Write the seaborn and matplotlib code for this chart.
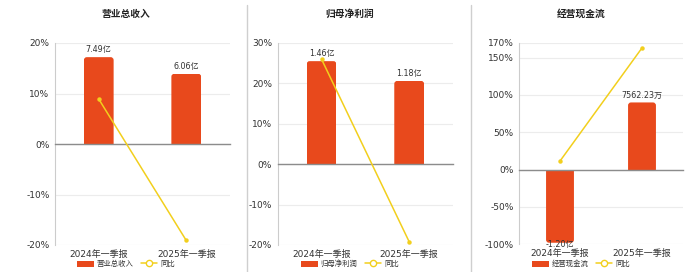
import numpy as np
import matplotlib
matplotlib.use("Agg")
import matplotlib.pyplot as plt
import matplotlib.patches as mpatches
from matplotlib.lines import Line2D
from matplotlib.patches import FancyBboxPatch, Rectangle
import seaborn as sns

sns.set_style("white")
plt.rcParams['font.family'] = ['DejaVu Sans', 'Noto Sans CJK SC']

# ---------------- data ----------------
categories = ["2024年一季报", "2025年一季报"]

titles = ["营业总收入", "归母净利润", "经营现金流"]

revenue_yi = [7.49, 6.06]
revenue_labels = ["7.49亿", "6.06亿"]
revenue_yoy = [8.9, -19.1]

profit_yi = [1.46, 1.18]
profit_labels = ["1.46亿", "1.18亿"]
profit_yoy = [26.0, -19.2]

cash_yi = [-1.20, 0.756223]
cash_labels = ["-1.20亿", "7562.23万"]
cash_yoy = [11.5, 163.0]

y_limits = [(-20, 20), (-20, 30), (-100, 170)]
y_ticks = [[-20, -10, 0, 10, 20],
           [-20, -10, 0, 10, 20, 30],
           [-100, -50, 0, 50, 100, 150, 170]]
# bar-axis scale (percent-axis units per 亿) for negative / positive values
bar_scales = [(2.296, 2.296), (17.47, 17.47), (81.6, 119.0)]

BAR = "#E8491C"
LINE = "#F2CF1D"
TXT = "#333333"

panels = [
    (revenue_yi, revenue_labels, revenue_yoy),
    (profit_yi, profit_labels, profit_yoy),
    (cash_yi, cash_labels, cash_yoy),
]

# layout (pixels)
W, H = 700, 272
axes_px = [(55, 230, 43, 245), (277.7, 453, 43, 245), (519, 683, 42.7, 244.3)]
centers_px = [126, 350, 581]

fig = plt.figure(figsize=(7, 2.72), dpi=100)
fig.patch.set_facecolor("white")

for i, ((vals, labs, yoy), (l, r, t, b)) in enumerate(zip(panels, axes_px)):
    ax = fig.add_axes([l / W, 1 - b / H, (r - l) / W, (b - t) / H])
    kneg, kpos = bar_scales[i]
    heights = [v * (kneg if v < 0 else kpos) for v in vals]

    sns.barplot(x=categories, y=heights, color=BAR, saturation=1, width=0.34,
                ax=ax, edgecolor="none", linewidth=0)

    ymin, ymax = y_limits[i]
    ax.set_ylim(ymin, ymax)
    ax.set_xlim(-0.5, 1.5)

    # rounded bar ends
    px_x = (r - l) / 2.0
    px_y = (b - t) / (ymax - ymin)
    rad_px = 3.0
    rx = rad_px / px_x
    ry = rad_px / px_y
    for p in list(ax.patches):
        x, y0 = p.get_x(), p.get_y()
        w, h = p.get_width(), p.get_height()
        lo, hi = min(y0, y0 + h), max(y0, y0 + h)
        if y0 + h >= 0:
            fb = FancyBboxPatch((x, lo - ry), w, hi - lo + ry,
                                boxstyle=f"round,pad=0,rounding_size={rx}",
                                mutation_aspect=ry / rx, facecolor=BAR,
                                edgecolor="none", zorder=2)
        else:
            fb = FancyBboxPatch((x, lo), w, hi - lo + ry,
                                boxstyle=f"round,pad=0,rounding_size={rx}",
                                mutation_aspect=ry / rx, facecolor=BAR,
                                edgecolor="none", zorder=2)
        clip = Rectangle((x, lo), w, hi - lo, transform=ax.transData)
        p.remove()
        ax.add_patch(fb)
        fb.set_clip_path(clip)

    # value labels
    for j, (hgt, txt) in enumerate(zip(heights, labs)):
        if hgt >= 0:
            ax.annotate(txt, (j, hgt), xytext=(0, 2), textcoords="offset points",
                        ha="center", va="bottom", fontsize=5.8, color=TXT, zorder=6)
        else:
            ax.annotate(txt, (j, hgt), xytext=(0, -1.5), textcoords="offset points",
                        ha="center", va="center", fontsize=5.8, color=TXT, zorder=6)

    # yoy line
    sns.lineplot(x=[0, 1], y=yoy, ax=ax, color=LINE, lw=1.1, marker="o",
                 markersize=3.2, markeredgewidth=0, zorder=5)

    # axes styling
    ax.set_yticks(y_ticks[i])
    ax.set_yticklabels([f"{v}%" for v in y_ticks[i]], fontsize=6.5, color=TXT)
    ax.tick_params(axis="y", length=0, pad=4)
    ax.yaxis.grid(True, color="#ececec", lw=0.8)
    ax.set_axisbelow(True)
    for s in ["top", "right"]:
        ax.spines[s].set_visible(False)
    ax.spines["left"].set_color("#cccccc")
    ax.spines["left"].set_linewidth(0.8)
    ax.spines["bottom"].set_position(("data", 0))
    ax.spines["bottom"].set_color("#8c8c8c")
    ax.spines["bottom"].set_linewidth(1.0)
    ax.set_xticks([0, 1])
    ax.set_xticklabels([])
    ax.tick_params(axis="x", which="major", length=0)
    ax.set_xticks([0.5], minor=True)
    ax.tick_params(axis="x", which="minor", length=3, color="#8c8c8c", width=0.8)
    ax.set_xlabel("")
    ax.set_ylabel("")

    sec = ax.secondary_xaxis("bottom")
    sec.set_xticks([0, 1])
    sec.set_xticklabels(categories, fontsize=6.5, color=TXT)
    sec.tick_params(length=0, pad=3.5)
    sec.spines["bottom"].set_visible(False)

    # title
    fig.text(centers_px[i] / W, 1 - 14 / H, titles[i], ha="center", va="center",
             fontsize=7.0, fontweight="bold", color="#222222")

    # legend
    handles = [mpatches.Patch(facecolor=BAR, edgecolor="none"),
               Line2D([], [], color=LINE, lw=1.1, marker="o", markersize=4.5,
                      markerfacecolor="white", markeredgecolor=LINE,
                      markeredgewidth=1.0)]
    fig.legend(handles, [titles[i], "同比"], loc="center",
               bbox_to_anchor=(centers_px[i] / W, 1 - 263.5 / H), ncol=2,
               frameon=False, fontsize=5.3, handlelength=2.2, handleheight=0.9,
               columnspacing=1.0, handletextpad=0.4, borderpad=0, labelcolor=TXT)

# panel separators
for xs in [247, 471]:
    fig.add_artist(Line2D([xs / W, xs / W], [0, 1 - 5 / H], color="#cfcfcf", lw=1.0))

fig.savefig("out.png", dpi=100, facecolor="white")
